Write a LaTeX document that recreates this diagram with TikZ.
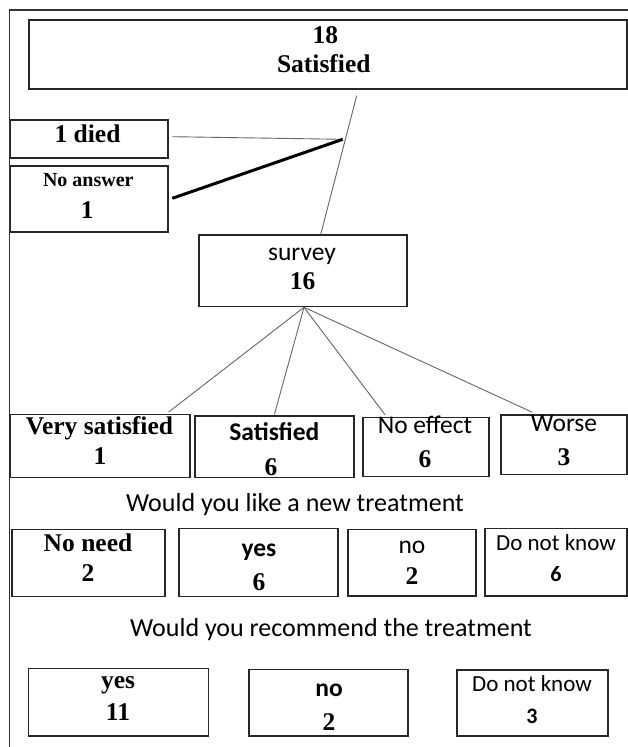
\documentclass[tikz,border=0pt]{standalone}
\usepackage{fontspec}
\setmainfont{Liberation Serif}
\newfontfamily\carlfont{Carlito}
\begin{document}
\begin{tikzpicture}[x=1pt,y=-1pt,
  boxst/.style={draw=black!85,line width=1.2pt,rectangle,inner sep=0pt,fill=white},
  conn/.style={draw=black!60,line width=0.9pt},
  thickconn/.style={draw=black,line width=3pt},
  frame/.style={draw=black!80,line width=1.3pt},
  txt/.style={anchor=base,inner sep=0pt},
  sb/.style={txt,font=\fontsize{25.5}{30}\selectfont\bfseries},
  sbs/.style={txt,font=\fontsize{20}{24}\selectfont\bfseries},
  cr/.style={txt,font=\carlfont\fontsize{25.5}{30}\selectfont},
  captxt/.style={txt,font=\carlfont\fontsize{26}{30}\selectfont},
  crs/.style={txt,font=\carlfont\fontsize{23}{28}\selectfont},
  cb/.style={txt,font=\carlfont\fontsize{25.5}{30}\selectfont\bfseries},
  cbs/.style={txt,font=\carlfont\fontsize{22}{26}\selectfont\bfseries}]
\useasboundingbox (0,0) rectangle (628,747);
\fill[white] (0,0) rectangle (628,747);
% frame
\coordinate (fr1) at (628,10);
\coordinate (fr2) at (9.3,10);
\coordinate (fr3) at (9.3,747);
\draw[frame] (fr1) -- (fr2) -- (fr3);
% boxes
\node[boxst,minimum width=598,minimum height=69] (top) at (328,54.5) {};
\node[boxst,minimum width=157.3,minimum height=38] (died) at (89.35,139) {};
\node[boxst,minimum width=157.3,minimum height=66] (noans) at (89.35,199) {};
\node[boxst,minimum width=208,minimum height=71.7] (survey) at (303,270.85) {};
\node[boxst,minimum width=180,minimum height=63] (vs) at (100,445.8) {};
\node[boxst,minimum width=159,minimum height=61.3] (sat) at (274.5,446.65) {};
\node[boxst,minimum width=126,minimum height=59.4] (ne) at (426,447) {};
\node[boxst,minimum width=126,minimum height=59.3] (worse) at (564,444.65) {};
\node[boxst,minimum width=153,minimum height=67.4] (nn) at (88.5,563) {};
\node[boxst,minimum width=159,minimum height=68] (yesa) at (258.5,562.7) {};
\node[boxst,minimum width=128,minimum height=66.7] (noa) at (412,562.65) {};
\node[boxst,minimum width=142,minimum height=67.3] (dnka) at (556,562.35) {};
\node[boxst,minimum width=180,minimum height=67.7] (yesb) at (118.8,702.15) {};
\node[boxst,minimum width=159,minimum height=66.7] (nob) at (328.5,702.65) {};
\node[boxst,minimum width=151,minimum height=66] (dnkb) at (532.5,703) {};
% connectors
\coordinate (J) at (342.7,139.3);
\draw[conn] ([xshift=28.7pt,yshift=-6pt]top.south) -- ([xshift=17.7pt]survey.north);
\draw[conn] ([xshift=3.7pt,yshift=2.3pt]died.east) -- (J);
\draw[thickconn] ([xshift=3.7pt,yshift=0.7pt]noans.east) -- (J);
\draw[conn] ([xshift=1pt]survey.south) -- ([xshift=-22pt,yshift=1.6pt]vs.north east);
\draw[conn] ([xshift=1pt]survey.south) -- ([xshift=-0.1pt,yshift=1pt]sat.north);
\draw[conn] ([xshift=1pt]survey.south) -- ([xshift=-41pt,yshift=2pt]ne.north);
\draw[conn] ([xshift=1pt]survey.south) -- ([xshift=-32pt,yshift=2.3pt]worse.north);
% texts
\node[sb] (t18) at (325.3,43.3) {18};
\node[sb] (tsat) at (323.8,72.7) {Satisfied};
\node[sb] (tdied) at (87.5,142.7) {1 died};
\node[sbs] (tnoans) at (88.3,186) {No answer};
\node[sb] (tnoans1) at (87.3,218.3) {1};
\node[cr] (tsurvey) at (302,260.7) {survey};
\node[sb] (t16) at (302.5,289.3) {16};
\node[sb] (tvs) at (99.5,434.5) {Very satisfied};
\node[sb] (tvs1) at (100,464.5) {1};
\node[cb] (tsat2) at (274.4,440) {Satisfied};
\node[sb] (tsat6) at (271,475) {6};
\node[cr] (tne) at (425,433.3) {No effect};
\node[sb] (tne6) at (425,467) {6};
\node[cr] (tworse) at (564,431.7) {Worse};
\node[sb] (tworse3) at (564,465) {3};
\node[captxt] (cap1) at (295,511) {Would you like a new treatment};
\node[sb] (tnn) at (88,551.7) {No need};
\node[sb] (tnn2) at (88,581.7) {2};
\node[cb] (tyesa) at (259,556) {yes};
\node[sb] (tyesa6) at (259,590) {6};
\node[cr] (tnoa) at (412,553.3) {no};
\node[sb] (tnoa2) at (412,584) {2};
\node[crs] (tdnka) at (556,550) {Do not know};
\node[cbs] (tdnka6) at (556,581.7) {6};
\node[captxt] (cap2) at (331,636) {Would you recommend the treatment};
\node[sb] (tyesb) at (118,688.3) {yes};
\node[sb] (tyesb11) at (118,720) {11};
\node[cb] (tnob) at (329,696) {no};
\node[sb] (tnob2) at (329,730.7) {2};
\node[crs] (tdnkb) at (532,691.7) {Do not know};
\node[cbs] (tdnkb3) at (532,723.3) {3};
\end{tikzpicture}
\end{document}
